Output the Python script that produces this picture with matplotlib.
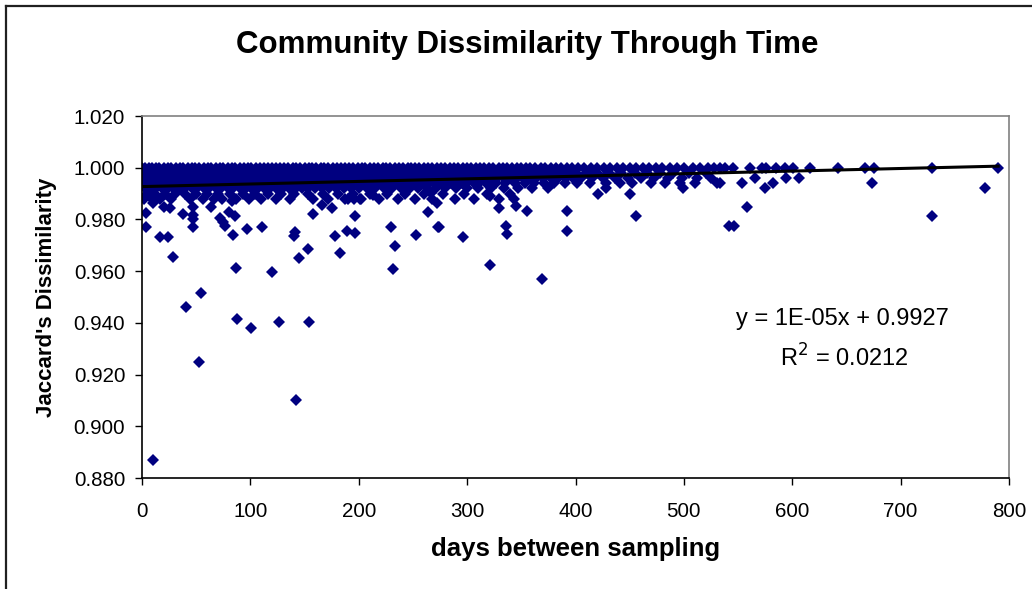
import matplotlib
matplotlib.use("Agg")
import matplotlib.pyplot as plt
from matplotlib.lines import Line2D

plt.rcParams['font.family'] = ['Liberation Sans', 'DejaVu Sans']

# ---- data ----
# dense band rows: days for points at a given Jaccard value
days_1000 = [0,3,6,9,13,16,20,24,27,31,35,38,42,46,49,53,57,61,64,68,72,75,79,83,86,90,94,98,101,105,
             109,113,116,120,124,127,131,135,139,142,146,150,154,157,161,165,168,172,176,180,184,187,191,
             195,199,203,206,210,214,218,222,225,229,233,237,241,245,248,252,256,260,264,268,272,276,280,
             284,288,292,296,300,304,308,312,316,320,324,329,333,337,341,346,350,354,358,363,368,372,377,
             382,387,392,397,402,408,414,420,426,432,438,444,450,456,462,468,474,480,487,494,500,508,515,
             522,528,533,538,545,561,572,576,585,593,601,616,642,667,675,729,790]
days_0998 = [2,7,11,15,19,23,28,32,36,41,45,50,54,58,63,67,71,76,80,85,89,93,97,102,106,111,115,119,123,
             128,132,137,141,145,150,155,159,163,168,172,177,181,185,190,194,199,204,208,212,217,221,226,
             230,235,239,244,248,253,257,262,267,271,276,281,285,290,295,300,305,310,315,320,326,331,336,
             342,348,354,360,366,372,379,386,393,400,410,420,431,442,455,466,478,490,505,520]
days_0996 = [1,5,10,14,18,22,26,30,34,39,43,47,52,56,60,65,69,74,78,82,87,91,96,100,104,108,112,117,122,
             126,130,134,138,143,148,152,156,161,166,170,174,179,183,188,192,197,201,206,211,215,220,224,
             228,232,236,240,246,251,256,261,266,270,275,279,283,288,293,298,303,308,313,318,323,328,334,
             340,346,352,358,364,370,377,384,391,398,405,415,425,436,448,460,472,485,498,512,525,566,594,606]
days_0994 = [0,4,8,12,17,21,25,29,33,37,44,48,51,55,59,62,66,70,73,77,81,84,88,92,95,99,103,107,110,114,
             118,121,125,129,133,136,140,144,147,151,158,162,167,171,175,178,182,186,189,193,198,202,207,
             213,219,223,227,234,238,243,249,254,259,265,269,274,278,284,289,294,299,306,311,317,322,327,
             335,344,353,362,371,380,390,401,413,428,441,452,470,483,496,510,531,533,554,582,674]
days_0992 = [3,8,13,18,24,29,35,40,46,51,57,62,68,73,79,84,90,96,101,107,113,118,124,130,136,142,148,153,
             160,166,173,179,186,193,200,208,215,223,231,239,247,255,263,271,280,290,300,310,322,334,347,
             360,375,428,499,575,778]
days_0990 = [5,12,21,30,40,50,60,70,81,93,104,116,128,140,153,167,181,195,210,226,243,260,278,297,318,340,
             421,450]
days_0988 = [2,9,17,27,44,56,66,74,87,99,110,124,137,158,172,187,201,219,236,252,268,289,306,329,343]

# scattered low values (days, Jaccard)
low_days = [4,4,10,17,24,20,26,29,38,47,47,47,47,64,72,75,77,80,86,83,84,87,97,111,120,141,140,145,153,
            158,166,175,178,183,189,197,197,190,196,202,213,230,233,232,253,264,267,273,272,
            274,296,321,329,336,337,345,355,321,369,392,392,456,542,546,558,729,
            54,41,88,101,126,154,53,142,10]
low_vals = [0.9825,0.977,0.9863,0.9732,0.9732,0.985,0.9844,0.9655,0.982,0.985,0.9818,0.980,0.977,0.985,
            0.9805,0.979,0.9773,0.983,0.9814,0.987,0.974,0.9612,0.9764,0.977,0.9595,0.975,0.9737,0.965,
            0.9686,0.982,0.9857,0.9844,0.9737,0.9672,0.9754,0.9747,0.9814,0.9879,0.9879,0.9879,0.9896,
            0.9769,0.9696,0.961,0.974,0.9827,0.9904,0.977,0.9863,
            0.977,0.9732,0.989,0.9844,0.9776,0.9745,0.9853,0.9834,0.9625,0.957,0.9834,0.9754,0.9814,0.9776,
            0.9776,0.985,0.9814,
            0.9515,0.946,0.9415,0.9382,0.9403,0.9403,0.9247,0.9103,0.887]

trend_slope = 1e-05
trend_intercept = 0.9927
trend_range = [0, 790]

x_ticks = [0, 100, 200, 300, 400, 500, 600, 700, 800]
y_ticks = [0.880, 0.900, 0.920, 0.940, 0.960, 0.980, 1.000, 1.020]

# ---- assemble ----
xs, ys = [], []
for days, val in [(days_1000, 1.000), (days_0998, 0.998), (days_0996, 0.996), (days_0994, 0.994),
                  (days_0992, 0.992), (days_0990, 0.990), (days_0988, 0.988)]:
    xs += days
    ys += [val] * len(days)
xs += low_days
ys += low_vals

W, H = 1032, 589
fig = plt.figure(figsize=(W / 100, H / 100), dpi=100)
ax = fig.add_axes([142 / W, 1 - 478 / H, (1009 - 142) / W, (478 - 116) / H])

navy = '#000080'
ax.plot(xs, ys, linestyle='none', marker='D', markersize=6.2, color=navy, markeredgewidth=0)
tx = trend_range
ty = [trend_intercept + trend_slope * v for v in tx]
ax.plot(tx, ty, color='black', linewidth=2.2)

ax.set_xlim(0, 800)
ax.set_ylim(0.880, 1.020)
ax.set_xticks(x_ticks)
ax.set_xticklabels([str(t) for t in x_ticks])
ax.set_yticks(y_ticks)
ax.set_yticklabels([f"{t:.3f}" for t in y_ticks])
ax.tick_params(axis='both', direction='out', length=5, width=1, color='black', labelsize=14.8)
ax.tick_params(axis='x', pad=12)
ax.tick_params(axis='y', pad=7)

for s in ['left', 'bottom']:
    ax.spines[s].set_color('black')
    ax.spines[s].set_linewidth(1.2)
for s in ['top', 'right']:
    ax.spines[s].set_color('#808080')
    ax.spines[s].set_linewidth(1.2)

ax.set_xlabel("days between sampling", fontsize=18.5, fontweight='bold', labelpad=12)
ax.set_ylabel("Jaccard's Dissimilarity", fontsize=16, fontweight='bold', labelpad=12)

fig.text(527 / W, 1 - 45 / H, "Community Dissimilarity Through Time", fontsize=22.5, fontweight='bold',
         ha='center', va='center')

ax.text(646, 0.9416, "y = 1E-05x + 0.9927", fontsize=17, ha='center', va='center')
ax.text(648, 0.9265, "R$^2$ = 0.0212", fontsize=17, ha='center', va='center')

# outer chart border (top and left visible)
fig.add_artist(Line2D([5.5 / W, 1.0], [1 - 6 / H, 1 - 6 / H], transform=fig.transFigure,
                      color='#202020', linewidth=1.6))
fig.add_artist(Line2D([5.5 / W, 5.5 / W], [1 - 6 / H, 0], transform=fig.transFigure,
                      color='#202020', linewidth=1.6))

fig.savefig("out.png", dpi=100)
